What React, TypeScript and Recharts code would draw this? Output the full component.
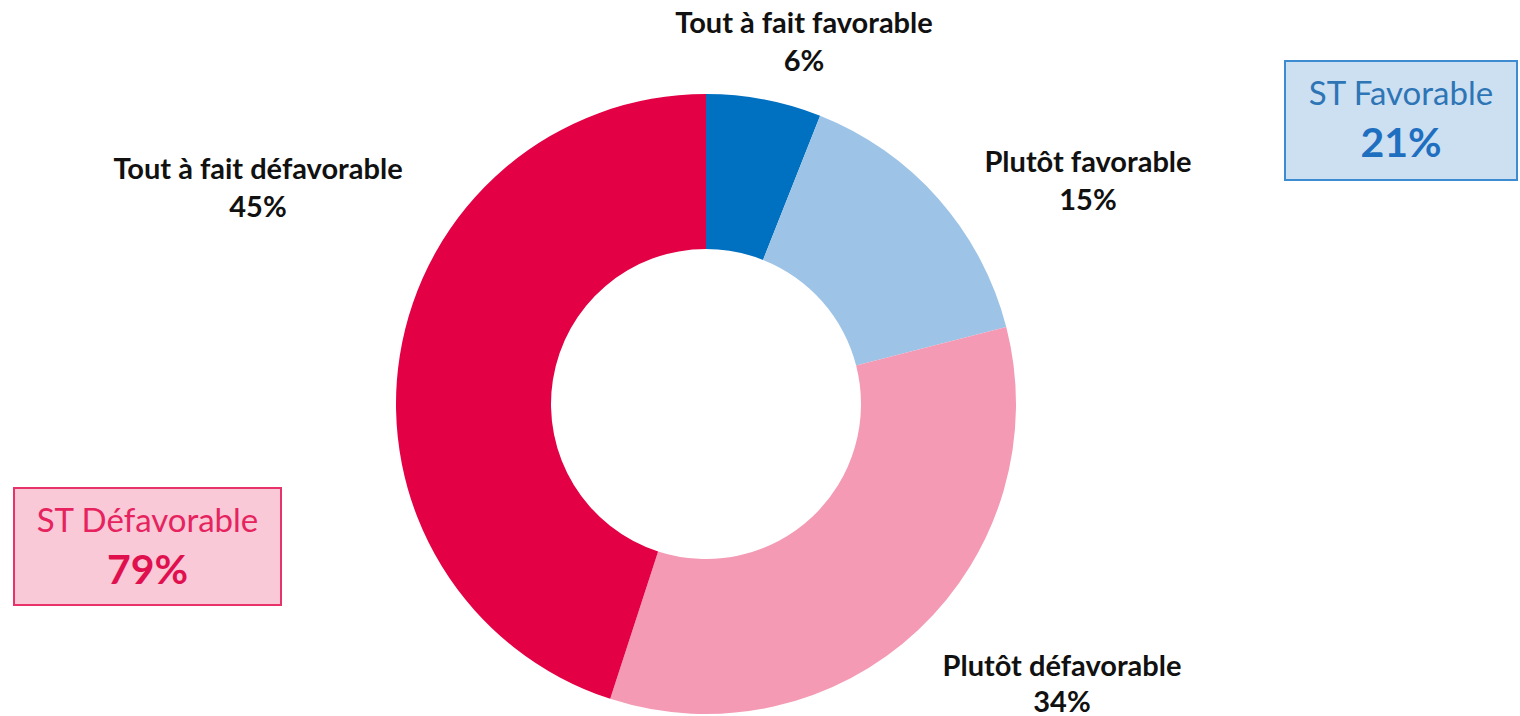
import React from 'react';
import { PieChart, Pie, Cell } from 'recharts';

const categories = ['Tout à fait favorable', 'Plutôt favorable', 'Plutôt défavorable', 'Tout à fait défavorable'];
const values = [6, 15, 34, 45];
const colors = ['#0070C0', '#9DC3E6', '#F49AB4', '#E30045'];

const favorableLabel = 'ST Favorable';
const defavorableLabel = 'ST Défavorable';

const data = categories.map((name, i) => ({ name, value: values[i] }));

// décalage des étiquettes par rapport au centre du donut
const labelOffsets = [
   { dx: 98, dy: -383 },
   { dx: 382, dy: -244 },
   { dx: 356, dy: 260 },
   { dx: -448, dy: -237 },
];

const FONT = 'Lato, "Open Sans", sans-serif';

const renderLabel = (props: any) => {
   const { cx, cy, index, name, value } = props;
   const off = labelOffsets[index];
   const x = cx + off.dx;
   const y = cy + off.dy;
   const gap = index === 2 ? 36 : 38;
   return (
      <g>
         <text x={x} y={y} textAnchor="middle" dominantBaseline="central" fill="#111111" fontFamily={FONT} fontWeight={700} fontSize={29}>
            {name}
         </text>
         <text x={x} y={y + gap} textAnchor="middle" dominantBaseline="central" fill="#111111" fontFamily={FONT} fontWeight={700} fontSize={29}>
            {value}%
         </text>
      </g>
   );
};

export default function App() {
   const stFavorable = values[0] + values[1];
   const stDefavorable = values[2] + values[3];

   return (
      <div style={{ position: 'absolute', left: 0, top: 0, width: 1520, height: 716, background: '#fff', fontFamily: FONT }}>
         <PieChart width={1520} height={716} margin={{ top: 0, right: 0, bottom: 0, left: 0 }}>
            <Pie
               data={data}
               dataKey="value"
               nameKey="name"
               cx={706}
               cy={404}
               innerRadius={155}
               outerRadius={310}
               startAngle={90}
               endAngle={-270}
               stroke="none"
               label={renderLabel}
               labelLine={false}
               isAnimationActive={false}
            >
               {data.map((entry, index) => (
                  <Cell key={`cell-${index}`} fill={colors[index]} />
               ))}
            </Pie>
         </PieChart>

         <div
            style={{
               position: 'absolute',
               left: 1284,
               top: 60,
               width: 234,
               height: 121,
               boxSizing: 'border-box',
               background: '#CCE0F2',
               border: '2px solid #3D8BD1',
               textAlign: 'center',
               color: '#2E75B6',
            }}
         >
            <div style={{ fontSize: 33, marginTop: 10, lineHeight: '40px' }}>{favorableLabel}</div>
            <div style={{ fontSize: 41, fontWeight: 700, marginTop: 4, lineHeight: '52px', color: '#1F6FC0' }}>{stFavorable}%</div>
         </div>

         <div
            style={{
               position: 'absolute',
               left: 13,
               top: 487,
               width: 269,
               height: 119,
               boxSizing: 'border-box',
               background: '#F9C9D8',
               border: '2px solid #E8336A',
               textAlign: 'center',
               color: '#E6235E',
            }}
         >
            <div style={{ fontSize: 33, marginTop: 10, lineHeight: '40px' }}>{defavorableLabel}</div>
            <div style={{ fontSize: 41, fontWeight: 700, marginTop: 4, lineHeight: '52px', color: '#E0104F' }}>{stDefavorable}%</div>
         </div>
      </div>
   );
}
